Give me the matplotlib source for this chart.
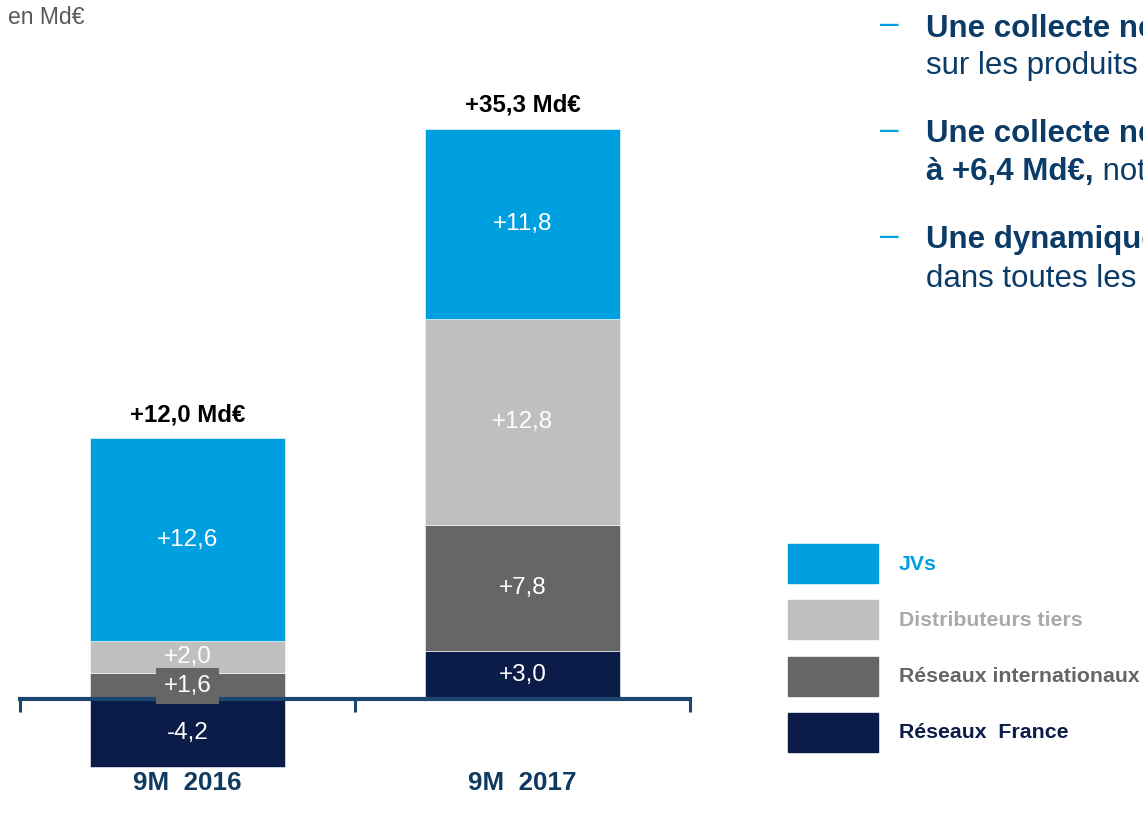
import numpy as np
import matplotlib
matplotlib.use('Agg')
import matplotlib.pyplot as plt
from matplotlib.patches import Rectangle

plt.rcParams['font.family'] = ['Liberation Sans', 'DejaVu Sans']

# donnees (Md€)
periodes = ['9M  2016', '9M  2017']
reseaux_france = [-4.2, 3.0]
reseaux_inter = [1.6, 7.8]
distributeurs = [2.0, 12.8]
jvs = [12.6, 11.8]
totaux = ['+12,0 Md€', '+35,3 Md€']

series = [
    ('Réseaux  France', reseaux_france, '#0c1c48', '#0c1c48'),
    ('Réseaux internationaux', reseaux_inter, '#666666', '#666666'),
    ('Distributeurs tiers', distributeurs, '#bfbfbf', '#a9a9a9'),
    ('JVs', jvs, '#009fe0', '#009fe0'),
]

W, H = 1143, 822
fig = plt.figure(figsize=(W / 100, H / 100), dpi=100)

# axe : zero a y=699 px, ~16.1 px par Md€
px_per = 16.1
top_px, bot_px, zero_px = 60, 800, 699
ax = fig.add_axes([20 / W, 1 - bot_px / H, 670 / W, (bot_px - top_px) / H])
ax.set_xlim(-0.5, 1.5)
ax.set_ylim(-(bot_px - zero_px) / px_per, (zero_px - top_px) / px_per)

x = np.arange(len(periodes))
pos_base = np.zeros(len(x))
neg_base = np.zeros(len(x))
for nom, vals, col, _ in series:
    vals = np.array(vals)
    bottoms = np.where(vals >= 0, pos_base, neg_base)
    ax.bar(x, vals, width=0.58, bottom=bottoms, color=col, edgecolor='white',
           linewidth=0.4, zorder=2)
    for xi, v, b in zip(x, vals, bottoms):
        lab = ('+' if v > 0 else '') + f'{v:.1f}'.replace('.', ',')
        kw = {}
        if nom == 'Réseaux internationaux' and abs(v) < 2:
            kw['bbox'] = dict(boxstyle='square,pad=0.3', fc=col, ec='none')
        ax.text(xi, b + v / 2, lab, ha='center', va='center', color='white',
                fontsize=17.5, zorder=5, **kw)
    pos_base = pos_base + np.where(vals >= 0, vals, 0)
    neg_base = neg_base + np.where(vals < 0, vals, 0)

for xi, top, t in zip(x, pos_base, totaux):
    ax.annotate(t, (xi, top), xytext=(0, 17), textcoords='offset points',
                ha='center', va='center', fontsize=17.3, fontweight='bold', color='black')

for xi, p in zip(x, periodes):
    ax.text(xi, -(783 - zero_px) / px_per, p, ha='center', va='center',
            fontsize=18.7, fontweight='bold', color='#0e3a62')

for s in ['top', 'right', 'left']:
    ax.spines[s].set_visible(False)
ax.spines['bottom'].set_position(('data', 0))
ax.spines['bottom'].set_color('#1a4670')
ax.spines['bottom'].set_linewidth(3)
ax.spines['bottom'].set_zorder(3)
ax.set_yticks([])
ax.set_xticks([-0.5, 0.5, 1.5])
ax.set_xticklabels([])
ax.tick_params(axis='x', length=9, width=2.2, color='#1a4670', direction='out')

fig.text(8 / W, 1 - 18 / H, 'en Md€', fontsize=16.5, color='#595959', va='center')

# legende
for i, (nom, _, col, tcol) in enumerate(series[::-1]):
    y0 = 544 + i * 56.3
    fig.patches.append(Rectangle((788 / W, 1 - (y0 + 39) / H), 90 / W, 39 / H,
                                 transform=fig.transFigure, color=col))
    fig.text(899 / W, 1 - (y0 + 20) / H, nom, fontsize=15.3, fontweight='bold',
             color=tcol, va='center')

# commentaires a droite
bleu = '#0b3c68'
lignes = [
    (37, 'Une collecte nette record', 'bold', None),
    (74, 'sur les produits de taux', 'normal', None),
    (142, 'Une collecte nette en unités de compte', 'bold', None),
    (180, 'à +6,4 Md€,', 'bold', ' notamment en France'),
    (248, 'Une dynamique commerciale', 'bold', None),
    (287, 'dans toutes les zones', 'normal', None),
]
for yb in [25, 131, 237]:
    fig.text(880 / W, 1 - yb / H, '–', fontsize=24, color='#009fe0', va='center')
for yb, txt, poids, suite in lignes:
    t = fig.text(926 / W, 1 - yb / H, txt, fontsize=22.5, fontweight=poids,
                 color=bleu, va='baseline')
    if suite:
        ax.annotate(suite, xy=(1, 0), xycoords=t, fontsize=22.5, color=bleu,
                    va='bottom', ha='left', annotation_clip=False)

fig.savefig('out.png', dpi=100)
